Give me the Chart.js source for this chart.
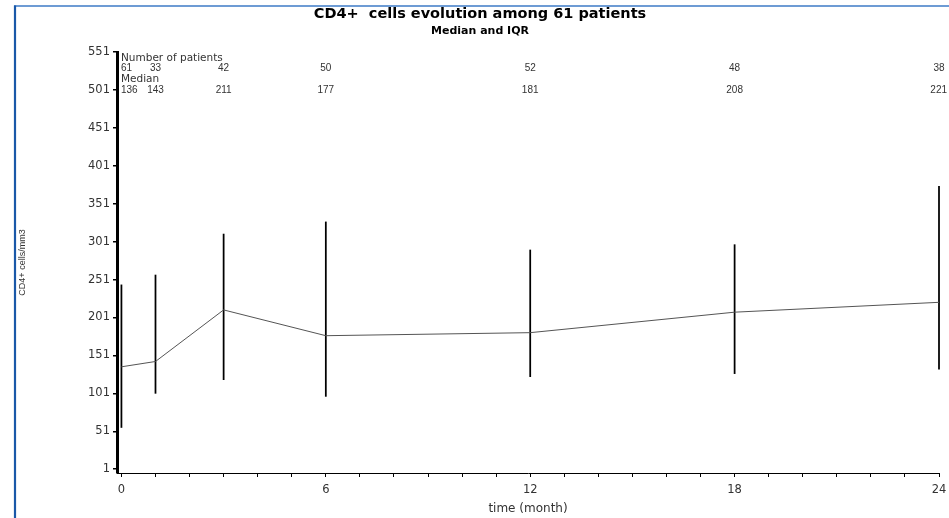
<!DOCTYPE html>
<html>
<head>
<meta charset="utf-8">
<script src="https://cdn.jsdelivr.net/npm/chart.js@4/dist/chart.umd.min.js"></script>
<style>
  html, body { margin: 0; padding: 0; background: #fff; }
  #wrap { width: 949px; height: 518px; position: relative; }
</style>
</head>
<body>
<div id="wrap"><canvas id="c" width="949" height="518"></canvas></div>
<script>
// ---- data ----
const months     = [0, 1, 3, 6, 12, 18, 24];
const nPatients  = [61, 33, 42, 50, 52, 48, 38];
const medians    = [136, 143, 211, 177, 181, 208, 221];
const q1Values   = [56, 101, 119, 97, 123, 127, 133];
const q3Values   = [244, 257, 311, 327, 290, 297, 374];
const yTickValues = [1, 51, 101, 151, 201, 251, 301, 351, 401, 451, 501, 551];
const xTickValues = [0, 1, 2, 3, 4, 5, 6, 7, 8, 9, 10, 11, 12, 13, 14, 15, 16, 17, 18, 19, 20, 21, 22, 23, 24];
const xLabelMonths = [0, 6, 12, 18, 24];
const titleText = 'CD4+  cells evolution among 61 patients';
const subtitleText = 'Median and IQR';

const SANS = "'Liberation Sans', Arial, sans-serif";
const WIDE = "'DejaVu Sans', 'Liberation Sans', sans-serif";

const medianPoints = months.map((m, i) => ({ x: m, y: medians[i] }));
const iqrBars = months.map((m, i) => ({ x: m, y: [q1Values[i], q3Values[i]] }));

const frame = {
  id: 'frame',
  beforeDraw(chart) {
    const ctx = chart.ctx;
    ctx.save();
    ctx.fillStyle = '#fff';
    ctx.fillRect(0, 0, chart.width, chart.height);
    ctx.strokeStyle = '#3d7ac6';
    ctx.lineWidth = 1.5;
    ctx.beginPath(); ctx.moveTo(14, 6); ctx.lineTo(chart.width, 6); ctx.stroke();
    ctx.strokeStyle = '#1a58a8';
    ctx.lineWidth = 2.2;
    ctx.beginPath(); ctx.moveTo(15, 5.5); ctx.lineTo(15, chart.height); ctx.stroke();
    // titles
    ctx.fillStyle = '#000';
    ctx.textAlign = 'center';
    ctx.textBaseline = 'middle';
    ctx.font = 'bold 14.5px ' + WIDE;
    ctx.fillText(titleText, 480, 14);
    ctx.font = 'bold 11px ' + WIDE;
    ctx.fillText(subtitleText, 480, 31);
    ctx.restore();
  }
};

const annot = {
  id: 'annot',
  afterDatasetsDraw(chart) {
    const ctx = chart.ctx;
    const xs = chart.scales.x;
    const left = chart.chartArea.left + 4;
    ctx.save();
    ctx.fillStyle = '#333';
    ctx.textBaseline = 'middle';
    ctx.textAlign = 'left';
    ctx.font = '10.5px ' + WIDE;
    ctx.fillText('Number of patients', left, 58);
    ctx.fillText('Median', left, 79);
    ctx.font = '10px ' + SANS;
    const row = (vals, y) => {
      vals.forEach((v, i) => {
        const t = String(v);
        const w = ctx.measureText(t).width;
        let cx = xs.getPixelForValue(months[i]);
        cx = Math.max(cx, left + w / 2);
        cx = Math.min(cx, chart.width - w / 2 - 2);
        ctx.textAlign = 'center';
        ctx.fillText(t, cx, y);
      });
    };
    row(nPatients, 68);
    row(medians, 90);
    ctx.restore();
  }
};

new Chart(document.getElementById('c'), {
  type: 'line',
  data: {
    datasets: [
      {
        type: 'line',
        data: medianPoints,
        borderColor: '#555',
        borderWidth: 1,
        pointRadius: 0,
        tension: 0,
        clip: false
      },
      {
        type: 'bar',
        data: iqrBars,
        backgroundColor: '#000',
        borderWidth: 0,
        barThickness: 1.1,
        grouped: false,
        clip: false
      }
    ]
  },
  options: {
    responsive: false,
    animation: false,
    events: [],
    layout: { padding: { left: 0, right: 10, top: 52, bottom: 0 } },
    plugins: {
      legend: { display: false },
      tooltip: { enabled: false },
      title: { display: false },
      subtitle: { display: false }
    },
    scales: {
      x: {
        type: 'linear',
        min: -0.13,
        max: 24,
        offset: false,
        afterFit(s) { s.height = 45; s.paddingRight = 0; s.paddingLeft = 0; },
        afterBuildTicks(s) { s.ticks = xTickValues.map(v => ({ value: v })); },
        border: { display: true, color: '#000', width: 1 },
        grid: { display: true, offset: false, drawOnChartArea: false, drawTicks: true, tickLength: 4, color: '#000', lineWidth: 1 },
        ticks: {
          autoSkip: false,
          maxRotation: 0,
          padding: 6,
          color: '#333',
          font: { family: WIDE, size: 11.5 },
          callback: v => (xLabelMonths.includes(v) ? String(v) : '')
        },
        title: {
          display: true,
          text: 'time (month)',
          color: '#333',
          font: { family: WIDE, size: 12, lineHeight: 1.2 },
          padding: { top: 2, bottom: 2 }
        }
      },
      y: {
        type: 'linear',
        min: -4,
        max: 551,
        afterFit(s) { s.width = 117; },
        afterBuildTicks(s) { s.ticks = yTickValues.map(v => ({ value: v })); },
        border: { display: true, color: '#000', width: 3 },
        grid: { display: true, drawOnChartArea: false, drawTicks: true, tickLength: 4, color: '#000', lineWidth: 1.5 },
        ticks: {
          padding: 3,
          color: '#333',
          font: { family: WIDE, size: 11.5 }
        },
        title: {
          display: true,
          text: 'CD4+ cells/mm3',
          color: '#333',
          font: { family: SANS, size: 9, lineHeight: 1.2 },
          padding: { top: 17, bottom: 0 }
        }
      }
    }
  },
  plugins: [frame, annot]
});
</script>
</body>
</html>
